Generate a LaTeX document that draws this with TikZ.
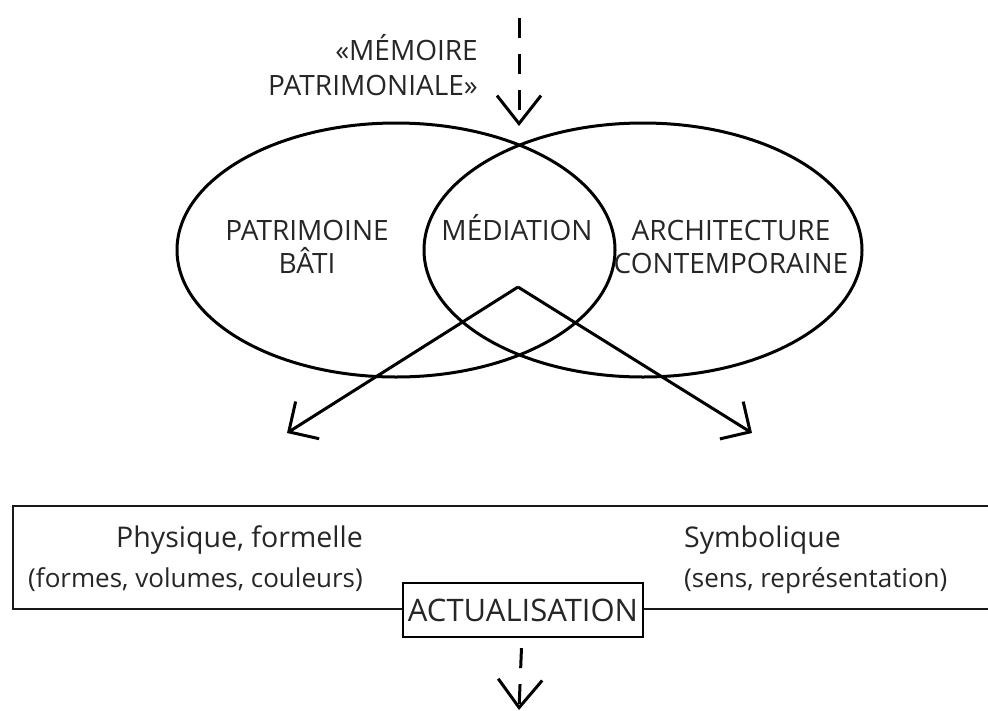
\documentclass[tikz,border=0pt]{standalone}
\usepackage{fontspec}
\setmainfont{Open Sans}
\usetikzlibrary{arrows.meta,shapes.geometric}
\tikzset{
  node-set/.style={draw,ellipse,line width=3pt,minimum width=438pt,minimum height=254pt,inner sep=0pt},
  node-lbl/.style={align=center,font=\fontsize{28}{33}\selectfont,text=black!85,inner sep=0pt},
  node-cap/.style={font=\fontsize{26}{40}\selectfont,text=black!85,inner sep=0pt},
  node-act/.style={draw,fill=white,line width=2.3pt,minimum width=240pt,minimum height=54pt,inner sep=0pt,font=\fontsize{31}{34}\selectfont,text=black!85},
  fleche/.style={-{Straight Barb[length=22pt,width=44pt,line width=3pt]},line width=3pt},
  fleche-p/.style={-{Straight Barb[length=28pt,width=44pt,line width=3pt]},line width=3pt,dash pattern=on 20pt off 16pt},
  cadre/.style={draw,line width=2.5pt,black!90},
}
\begin{document}
\begin{tikzpicture}[x=1pt,y=-1pt]
  \useasboundingbox (0,0) rectangle (988,710);

  % memoire patrimoniale
  \node[node-lbl,align=right,anchor=base east,font=\fontsize{28}{35}\selectfont] (memoire) at (478,95) {«MÉMOIRE\\PATRIMONIALE»};
  \coordinate (haut) at (519,18);
  \coordinate (entree) at (519,126);
  \draw[fleche-p] (haut) -- (entree);

  % les deux ensembles
  \node[node-set] (bati) at (396,250) {};
  \node[node-set] (contemp) at (643,250) {};
  \node[node-lbl,anchor=base] (lbati) at (307,273) {PATRIMOINE\\BÂTI};
  \node[node-lbl,anchor=base] (lmed) at (517,240) {MÉDIATION};
  \node[node-lbl,anchor=base] (lcontemp) at (731,273) {ARCHITECTURE\\CONTEMPORAINE};

  % mediation vers actualisation
  \coordinate (sommet) at (518,287);
  \coordinate (phys) at (287,433);
  \coordinate (symb) at (752,433);
  \draw[fleche] (sommet) -- (phys);
  \draw[fleche] (sommet) -- (symb);

  % cadre
  \draw[cadre] (13,506) rectangle (996,609);
  \node[node-cap,align=right,anchor=base east] (lphys) at (363,587) {{\fontsize{28.5}{40}\selectfont Physique, formelle}\\(formes, volumes, couleurs)};
  \node[node-cap,align=left,anchor=base west] (lsymb) at (684,587) {{\fontsize{28.5}{40}\selectfont Symbolique}\\(sens, représentation)};
  \node[node-act] (actu) at (523,610) {ACTUALISATION};
  \coordinate (bas) at (519,710);
  \draw[fleche-p,shorten <=10pt] (actu) -- (bas);

\end{tikzpicture}
\end{document}
